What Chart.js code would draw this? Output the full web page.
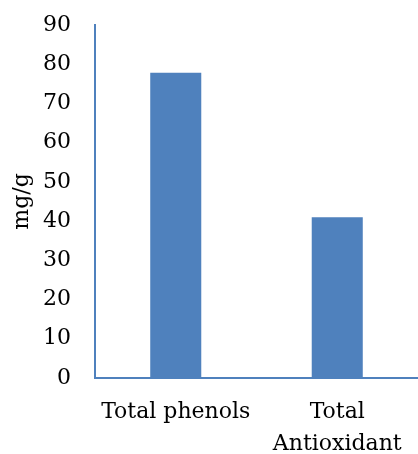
<!DOCTYPE html>
<html>
<head>
<meta charset="utf-8">
<script src="https://cdn.jsdelivr.net/npm/chart.js@4/dist/chart.umd.min.js"></script>
<style>
  html, body { margin: 0; padding: 0; background: #ffffff; }
  #wrap { width: 418px; height: 454px; }
</style>
</head>
<body>
<div id="wrap"><canvas id="c" width="418" height="454"></canvas></div>
<script>
// Measured contents (mg/g)
const categories = ["Total phenols", ["Total", "Antioxidant"]];
const values = [77.8, 41.0];
const yTicks = [0, 10, 20, 30, 40, 50, 60, 70, 80, 90];
const yTitle = "mg/g";

const blue = "#4F81BD";
const font = { family: "'DejaVu Serif', serif", size: 22, lineHeight: 1.45 };

new Chart(document.getElementById("c"), {
  type: "bar",
  data: {
    labels: categories,
    datasets: [{
      data: values,
      backgroundColor: blue,
      borderWidth: 0,
      barPercentage: 0.316,
      categoryPercentage: 1.0
    }]
  },
  options: {
    responsive: false,
    animation: false,
    layout: { padding: { top: 25, right: 0, left: 0, bottom: 0 } },
    plugins: { legend: { display: false }, tooltip: { enabled: false } },
    scales: {
      x: {
        grid: { display: false, drawTicks: false },
        border: { display: true, color: blue, width: 2 },
        ticks: { color: "#000", font: font, padding: 18, maxRotation: 0, autoSkip: false },
        afterFit(scale) {
          scale.height = 76;
          scale.paddingLeft = 0;
          scale.paddingRight = 0;
        }
      },
      y: {
        min: 0,
        max: yTicks[yTicks.length - 1],
        grid: { display: false, drawTicks: false },
        border: { display: true, color: blue, width: 2 },
        ticks: { color: "#000", font: font, padding: 24, stepSize: yTicks[1] - yTicks[0] },
        afterBuildTicks(scale) { scale.ticks = yTicks.map(v => ({ value: v })); },
        title: { display: true, text: yTitle, color: "#000", font: { family: font.family, size: 22 }, padding: { top: 9, bottom: 4 } },
        afterFit(scale) {
          scale.width = 95;
          scale.paddingTop = 0;
          scale.paddingBottom = 0;
        }
      }
    }
  }
});
</script>
</body>
</html>
